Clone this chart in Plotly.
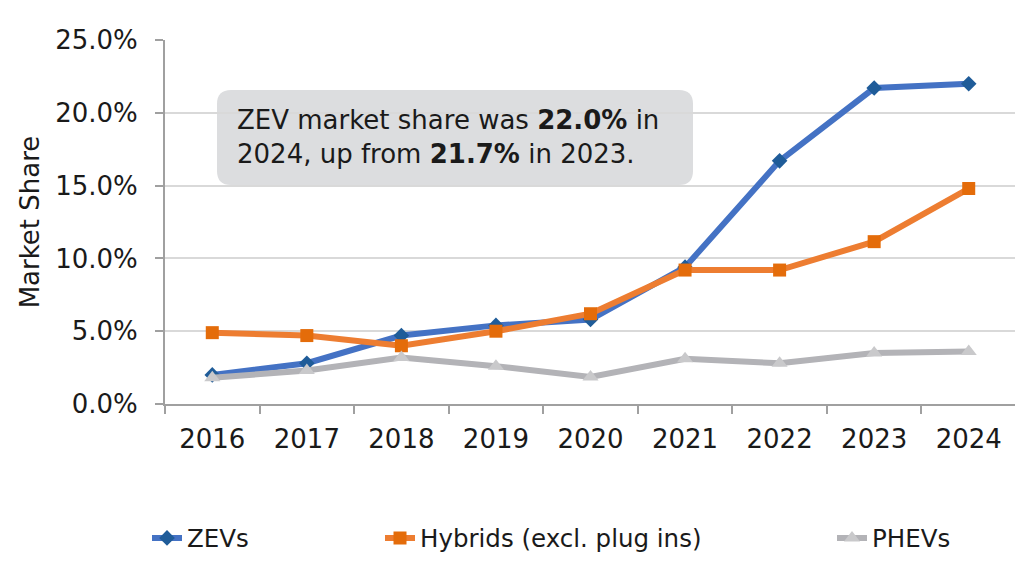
import plotly.graph_objects as go

years = ["2016", "2017", "2018", "2019", "2020", "2021", "2022", "2023", "2024"]
zevs = [0.020, 0.028, 0.047, 0.054, 0.058, 0.094, 0.167, 0.217, 0.220]
hybrids = [0.049, 0.047, 0.040, 0.050, 0.062, 0.092, 0.092, 0.1115, 0.148]
phevs = [0.018, 0.023, 0.032, 0.026, 0.0185, 0.031, 0.028, 0.035, 0.036]

FONT = "DejaVu Sans"
OFF = 8  # page body margin
W, H = 1023 - OFF, 571 - OFF
L, R, T, B = 165 - OFF, 7, 40 - OFF, 167
pw, ph = W - L - R, H - T - B


def px_x(px):  # page pixel -> paper
    return (px - OFF - L) / pw


def px_y(py):
    return (H - B - (py - OFF)) / ph


fig = go.Figure()
fig.add_trace(go.Scatter(
    x=years, y=zevs, name="ZEVs", mode="lines+markers",
    line=dict(color="#4472C4", width=6),
    marker=dict(symbol="diamond", size=12, color="#1F5C99"),
    legend="legend",
))
fig.add_trace(go.Scatter(
    x=years, y=hybrids, name="Hybrids (excl. plug ins)", mode="lines+markers",
    line=dict(color="#ED7D31", width=6),
    marker=dict(symbol="square", size=13, color="#E46C0A"),
    legend="legend2",
))
fig.add_trace(go.Scatter(
    x=years, y=phevs, name="PHEVs", mode="lines+markers",
    line=dict(color="#B3B3B7", width=6),
    marker=dict(symbol="triangle-up", size=14, color="#C9C9CB"),
    legend="legend3",
))

# rounded callout box
x0, x1 = px_x(217), px_x(693)
y0, y1 = px_y(185), px_y(90)
rx, ry = 14 / pw, 14 / ph
path = (f"M{x0+rx},{y0} L{x1-rx},{y0} Q{x1},{y0} {x1},{y0+ry} "
        f"L{x1},{y1-ry} Q{x1},{y1} {x1-rx},{y1} L{x0+rx},{y1} "
        f"Q{x0},{y1} {x0},{y1-ry} L{x0},{y0+ry} Q{x0},{y0} {x0+rx},{y0} Z")
fig.add_shape(type="path", path=path, xref="paper", yref="paper",
              fillcolor="#DCDDDF", line=dict(width=0), layer="between")

fig.add_annotation(
    xref="paper", yref="paper", x=px_x(235), y=px_y(137),
    xanchor="left", yanchor="middle", align="left", showarrow=False,
    text="ZEV market share was <b>22.0%</b> in<br>2024, up from <b>21.7%</b> in 2023.",
    font=dict(family=FONT, size=26, color="#1A1A1A"),
)

leg_common = dict(orientation="h", yanchor="middle", xanchor="left",
                  font=dict(family=FONT, size=24.5, color="#1A1A1A"),
                  bgcolor="rgba(0,0,0,0)")
fig.update_layout(
    legend=dict(x=px_x(147), y=px_y(538), **leg_common),
    legend2=dict(x=px_x(380), y=px_y(538), **leg_common),
    legend3=dict(x=px_x(832), y=px_y(538), **leg_common),
)

fig.update_xaxes(
    type="category", tickson="boundaries", ticks="outside", ticklen=8,
    tickwidth=2, tickcolor="#A0A0A0", showline=True, linecolor="#A0A0A0",
    linewidth=2, showgrid=False, ticklabelstandoff=11,
    tickfont=dict(family=FONT, size=26, color="#1A1A1A"),
    range=[-0.5, 8.5],
)
fig.update_yaxes(
    range=[0, 0.25], dtick=0.05, tickformat=".1%", ticks="outside",
    ticklen=8, tickwidth=2, tickcolor="#A0A0A0", showline=True,
    linecolor="#A0A0A0", linewidth=2, showgrid=True, gridcolor="#D9D9D9",
    gridwidth=1.5, zeroline=False, ticklabelstandoff=12,
    tickfont=dict(family=FONT, size=26, color="#1A1A1A"),
    title=dict(text="Market Share", standoff=8,
               font=dict(family=FONT, size=26, color="#1A1A1A")),
)

fig.update_layout(
    width=W, height=H,
    margin=dict(l=L, r=R, t=T, b=B, autoexpand=False),
    paper_bgcolor="white", plot_bgcolor="white",
    showlegend=True,
)

fig.write_html("out.html")
